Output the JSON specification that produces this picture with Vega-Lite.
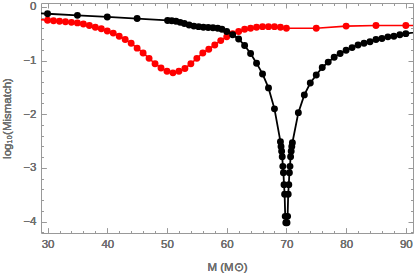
{
  "$schema": "https://vega.github.io/schema/vega-lite/v6.json",
  "autosize": "none",
  "width": 372,
  "height": 230,
  "padding": {"left": 41, "top": 3, "right": 2, "bottom": 44},
  "background": "white",
  "config": {
    "view": {"stroke": "#999999", "strokeWidth": 1},
    "axis": {
      "domain": false,
      "grid": false,
      "tickColor": "#999999",
      "tickWidth": 1,
      "labelFont": "Liberation Sans",
      "labelFontSize": 11.5,
      "labelColor": "#6e6e6e",
      "labelOverlap": false,
      "labelBound": false,
      "titleFont": "Liberation Sans",
      "titleFontSize": 11.5,
      "titleFontWeight": "normal",
      "titleColor": "#6e6e6e"
    }
  },
  "data": {
    "values": [
      {"M": 28, "v": -0.23, "s": "red"},
      {"M": 30, "v": -0.25, "s": "red"},
      {"M": 31, "v": -0.26, "s": "red"},
      {"M": 32, "v": -0.27, "s": "red"},
      {"M": 33, "v": -0.28, "s": "red"},
      {"M": 34, "v": -0.29, "s": "red"},
      {"M": 35, "v": -0.30, "s": "red"},
      {"M": 36, "v": -0.32, "s": "red"},
      {"M": 37, "v": -0.35, "s": "red"},
      {"M": 38, "v": -0.38, "s": "red"},
      {"M": 39, "v": -0.41, "s": "red"},
      {"M": 40, "v": -0.45, "s": "red"},
      {"M": 41, "v": -0.49, "s": "red"},
      {"M": 42, "v": -0.55, "s": "red"},
      {"M": 43, "v": -0.61, "s": "red"},
      {"M": 44, "v": -0.68, "s": "red"},
      {"M": 45, "v": -0.77, "s": "red"},
      {"M": 46, "v": -0.86, "s": "red"},
      {"M": 47, "v": -0.96, "s": "red"},
      {"M": 48, "v": -1.06, "s": "red"},
      {"M": 49, "v": -1.14, "s": "red"},
      {"M": 50, "v": -1.20, "s": "red"},
      {"M": 51, "v": -1.23, "s": "red"},
      {"M": 52, "v": -1.20, "s": "red"},
      {"M": 53, "v": -1.15, "s": "red"},
      {"M": 54, "v": -1.06, "s": "red"},
      {"M": 55, "v": -0.96, "s": "red"},
      {"M": 56, "v": -0.86, "s": "red"},
      {"M": 57, "v": -0.79, "s": "red"},
      {"M": 58, "v": -0.71, "s": "red"},
      {"M": 59, "v": -0.63, "s": "red"},
      {"M": 60, "v": -0.56, "s": "red"},
      {"M": 61, "v": -0.50, "s": "red"},
      {"M": 62, "v": -0.46, "s": "red"},
      {"M": 63, "v": -0.42, "s": "red"},
      {"M": 64, "v": -0.40, "s": "red"},
      {"M": 65, "v": -0.38, "s": "red"},
      {"M": 66, "v": -0.37, "s": "red"},
      {"M": 67, "v": -0.37, "s": "red"},
      {"M": 68, "v": -0.37, "s": "red"},
      {"M": 69, "v": -0.38, "s": "red"},
      {"M": 70, "v": -0.40, "s": "red"},
      {"M": 75, "v": -0.40, "s": "red"},
      {"M": 80, "v": -0.36, "s": "red"},
      {"M": 85, "v": -0.35, "s": "red"},
      {"M": 90, "v": -0.35, "s": "red"},
      {"M": 95, "v": -0.35, "s": "red"},
      {"M": 25, "v": -0.10, "s": "black"},
      {"M": 30, "v": -0.13, "s": "black"},
      {"M": 35, "v": -0.16, "s": "black"},
      {"M": 40, "v": -0.19, "s": "black"},
      {"M": 45, "v": -0.22, "s": "black"},
      {"M": 50.1, "v": -0.255, "s": "black"},
      {"M": 50.8, "v": -0.26, "s": "black"},
      {"M": 51.5, "v": -0.27, "s": "black"},
      {"M": 52.2, "v": -0.29, "s": "black"},
      {"M": 52.9, "v": -0.31, "s": "black"},
      {"M": 53.7, "v": -0.34, "s": "black"},
      {"M": 54.5, "v": -0.36, "s": "black"},
      {"M": 55.3, "v": -0.37, "s": "black"},
      {"M": 56.1, "v": -0.38, "s": "black"},
      {"M": 56.9, "v": -0.385, "s": "black"},
      {"M": 57.7, "v": -0.39, "s": "black"},
      {"M": 58.5, "v": -0.40, "s": "black"},
      {"M": 59.2, "v": -0.42, "s": "black"},
      {"M": 60.0, "v": -0.46, "s": "black"},
      {"M": 61.0, "v": -0.52, "s": "black"},
      {"M": 62.0, "v": -0.60, "s": "black"},
      {"M": 63.0, "v": -0.72, "s": "black"},
      {"M": 64.0, "v": -0.87, "s": "black"},
      {"M": 65.0, "v": -1.05, "s": "black"},
      {"M": 66.0, "v": -1.25, "s": "black"},
      {"M": 67.0, "v": -1.51, "s": "black"},
      {"M": 68.0, "v": -1.90, "s": "black"},
      {"M": 69.0, "v": -2.51, "s": "black"},
      {"M": 69.1, "v": -2.60, "s": "black"},
      {"M": 69.2, "v": -2.69, "s": "black"},
      {"M": 69.3, "v": -2.79, "s": "black"},
      {"M": 69.4, "v": -2.97, "s": "black"},
      {"M": 69.5, "v": -3.09, "s": "black"},
      {"M": 69.6, "v": -3.31, "s": "black"},
      {"M": 69.7, "v": -3.49, "s": "black"},
      {"M": 69.8, "v": -3.90, "s": "black"},
      {"M": 69.9, "v": -4.02, "s": "black"},
      {"M": 70.1, "v": -4.02, "s": "black"},
      {"M": 70.2, "v": -3.90, "s": "black"},
      {"M": 70.3, "v": -3.49, "s": "black"},
      {"M": 70.4, "v": -3.31, "s": "black"},
      {"M": 70.5, "v": -3.09, "s": "black"},
      {"M": 70.6, "v": -2.97, "s": "black"},
      {"M": 70.7, "v": -2.79, "s": "black"},
      {"M": 70.8, "v": -2.69, "s": "black"},
      {"M": 70.9, "v": -2.60, "s": "black"},
      {"M": 71.0, "v": -2.53, "s": "black"},
      {"M": 72.0, "v": -1.97, "s": "black"},
      {"M": 73.0, "v": -1.64, "s": "black"},
      {"M": 74.0, "v": -1.42, "s": "black"},
      {"M": 75, "v": -1.27, "s": "black"},
      {"M": 76, "v": -1.13, "s": "black"},
      {"M": 77, "v": -1.03, "s": "black"},
      {"M": 78, "v": -0.94, "s": "black"},
      {"M": 79, "v": -0.87, "s": "black"},
      {"M": 80, "v": -0.81, "s": "black"},
      {"M": 81, "v": -0.76, "s": "black"},
      {"M": 82, "v": -0.71, "s": "black"},
      {"M": 83, "v": -0.68, "s": "black"},
      {"M": 84, "v": -0.65, "s": "black"},
      {"M": 85, "v": -0.61, "s": "black"},
      {"M": 86, "v": -0.59, "s": "black"},
      {"M": 87, "v": -0.56, "s": "black"},
      {"M": 88, "v": -0.55, "s": "black"},
      {"M": 89, "v": -0.52, "s": "black"},
      {"M": 90, "v": -0.50, "s": "black"},
      {"M": 95, "v": -0.42, "s": "black"}
    ]
  },
  "encoding": {
    "x": {
      "field": "M",
      "type": "quantitative",
      "scale": {"domain": [28.9, 91.2], "nice": false, "zero": false},
      "axis": {
        "orient": "bottom",
        "title": "M (M⊙)",
        "titleY": 37,
        "titleBaseline": "alphabetic",
        "values": [30,32,34,36,38,40,42,44,46,48,50,52,54,56,58,60,62,64,66,68,70,72,74,76,78,80,82,84,86,88,90],
        "labelExpr": "datum.value % 10 == 0 ? format(datum.value, 'd') : ''",
        "tickSize": {"condition": {"test": "datum.value % 10 == 0", "value": -5}, "value": -2.5},
        "labelPadding": 10
      }
    },
    "y": {
      "field": "v",
      "type": "quantitative",
      "scale": {"domain": [-4.21, 0.07], "nice": false, "zero": false},
      "axis": {
        "orient": "left",
        "title": "log₁₀(Mismatch)",
        "titlePadding": 0,
        "titleX": -34,
        "titleBaseline": "middle",
        "values": [-4.2,-4,-3.8,-3.6,-3.4,-3.2,-3,-2.8,-2.6,-2.4,-2.2,-2,-1.8,-1.6,-1.4,-1.2,-1,-0.8,-0.6,-0.4,-0.2,0],
        "labelExpr": "abs(datum.value - round(datum.value)) < 1e-6 ? format(round(datum.value), 'd') : ''",
        "tickSize": {"condition": {"test": "abs(datum.value - round(datum.value)) < 1e-6", "value": -5}, "value": -2.5},
        "labelPadding": 10
      }
    }
  },
  "layer": [
    {
      "transform": [{"filter": "datum.s == 'red'"}],
      "mark": {"type": "line", "color": "#ff0000", "strokeWidth": 1.6, "clip": true},
      "encoding": {}
    },
    {
      "transform": [{"filter": "datum.s == 'red'"}],
      "mark": {"type": "point", "filled": true, "color": "#ff0000", "size": 48, "opacity": 1, "clip": true},
      "encoding": {}
    },
    {
      "transform": [{"filter": "datum.s == 'black'"}],
      "mark": {"type": "line", "color": "#000000", "strokeWidth": 1.8, "clip": true},
      "encoding": {}
    },
    {
      "transform": [{"filter": "datum.s == 'black'"}],
      "mark": {"type": "point", "filled": true, "color": "#000000", "size": 48, "opacity": 1, "clip": true},
      "encoding": {
        "x": {
          "field": "M",
          "type": "quantitative",
          "axis": {
            "orient": "top",
            "title": null,
            "labels": false,
            "values": [30,32,34,36,38,40,42,44,46,48,50,52,54,56,58,60,62,64,66,68,70,72,74,76,78,80,82,84,86,88,90],
            "tickSize": {"condition": {"test": "datum.value % 10 == 0", "value": -5}, "value": -2.5}
          }
        },
        "y": {
          "field": "v",
          "type": "quantitative",
          "axis": {
            "orient": "right",
            "title": null,
            "labels": false,
            "values": [-4.2,-4,-3.8,-3.6,-3.4,-3.2,-3,-2.8,-2.6,-2.4,-2.2,-2,-1.8,-1.6,-1.4,-1.2,-1,-0.8,-0.6,-0.4,-0.2,0],
            "tickSize": {"condition": {"test": "abs(datum.value - round(datum.value)) < 1e-6", "value": -5}, "value": -2.5}
          }
        }
      }
    }
  ]
}
